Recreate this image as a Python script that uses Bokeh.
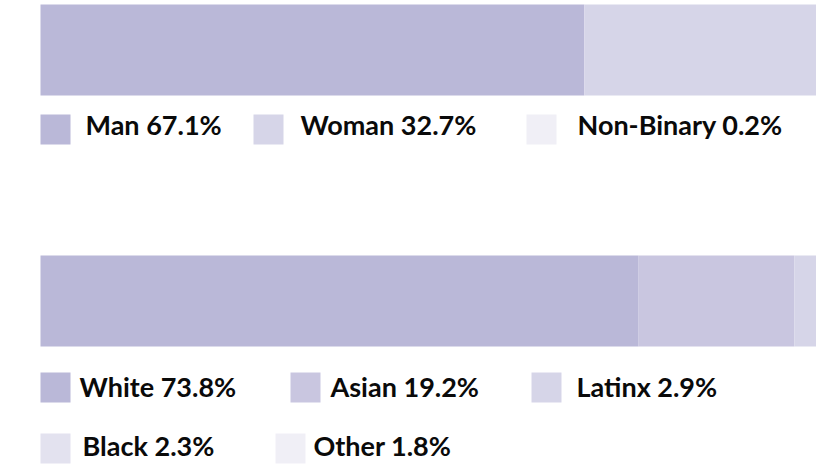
from bokeh.plotting import figure
from bokeh.models import Range1d, ColumnDataSource
from bokeh.core.properties import value
from bokeh.embed import file_html
from bokeh.resources import INLINE

# ---- data ----
gender_labels = ["Man", "Woman", "Non-Binary"]
gender_values = [67.1, 32.7, 0.2]
race_labels = ["White", "Asian", "Latinx", "Black", "Other"]
race_values = [73.8, 19.2, 2.9, 2.3, 1.8]

# ---- styles ----
gender_colors = ["#bab8d8", "#d6d5e8", "#f0eff6"]
race_colors = ["#bab8d8", "#c9c6e0", "#d6d5e8", "#e3e2ef", "#f0eff6"]
FONT = "Lato"

W, H = 816, 469
PX_PER_PCT = 8.105
LEFT_PX = 40

p = figure(width=W, height=H, output_backend="svg", toolbar_location=None,
           x_range=Range1d(-LEFT_PX / PX_PER_PCT, (W - LEFT_PX) / PX_PER_PCT),
           y_range=Range1d(H, 0), min_border=0)
p.extra_x_ranges = {"px": Range1d(0, W)}
p.axis.visible = False
p.grid.visible = False
p.outline_line_color = None
p.background_fill_color = "white"
p.border_fill_color = "white"


def stacked(labels, values, colors, yc, hgt):
    lefts, rights, c = [], [], 0.0
    for v in values:
        lefts.append(c)
        c += v
        rights.append(c)
    src = ColumnDataSource(dict(y=[yc] * len(values), left=lefts, right=rights,
                                color=colors, label=labels))
    p.hbar(y="y", left="left", right="right", height=hgt, fill_color="color",
           line_color=None, source=src)


stacked(gender_labels, gender_values, gender_colors, 49.5, 91)
stacked(race_labels, race_values, race_colors, 300.5, 91)

# ---- legends (layout) ----
SQ = 30
gender_sq_x = [40, 253, 526]
gender_txt_x = [85, 300, 577]
gender_row_top = [114, 114, 114]
gender_mid = [124, 124, 124]

race_sq_x = [40, 290, 531, 40, 275]
race_txt_x = [79, 330, 576, 82, 313]
race_row_top = [372, 372, 372, 433, 433]
race_mid = [386, 386, 386, 445, 445]


def legend(labels, values, colors, sqx, txx, tops, mids):
    src = ColumnDataSource(dict(
        x=[x + SQ / 2 for x in sqx], y=[t + SQ / 2 for t in tops], color=colors))
    p.rect(x="x", y="y", width=SQ, height=SQ, fill_color="color", line_color=None,
           source=src, x_range_name="px")
    texts = [f"{l} {v}%" for l, v in zip(labels, values)]
    tsrc = ColumnDataSource(dict(x=txx, y=mids, text=texts))
    p.text(x="x", y="y", text="text", source=tsrc, x_range_name="px",
           text_font=value(FONT), text_font_style="bold", text_font_size="27px",
           text_color="#0a0a0a", text_baseline="middle", text_align="left")


legend(gender_labels, gender_values, gender_colors, gender_sq_x, gender_txt_x,
       gender_row_top, gender_mid)
legend(race_labels, race_values, race_colors, race_sq_x, race_txt_x,
       race_row_top, race_mid)

open("out.html", "w").write(file_html(p, INLINE))
